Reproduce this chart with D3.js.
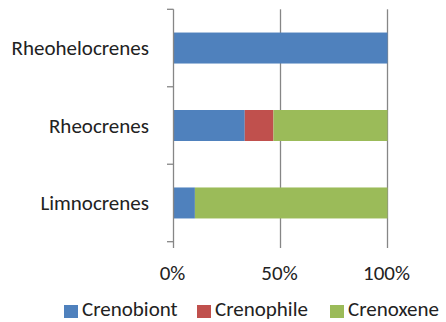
<!DOCTYPE html>
<html><head><meta charset="utf-8">
<script src="https://cdn.jsdelivr.net/npm/d3@7"></script>
<style>body{margin:0;background:#fff}</style>
</head><body>
<svg id="c" width="446" height="322"></svg>
<script>
const categories = ["Rheohelocrenes", "Rheocrenes", "Limnocrenes"];
const seriesNames = ["Crenobiont", "Crenophile", "Crenoxene"];
const crenobiont = [100, 33.3, 10];
const crenophile = [0, 13.4, 0];
const crenoxene = [0, 53.3, 90];
const tickValues = [0, 50, 100];
const tickLabels = ["0%", "50%", "100%"];
const colors = ["#4F81BD", "#C0504D", "#9BBB59"];

const font = "Carlito, 'Liberation Sans', Arial, sans-serif";
const fs = 21;
const svg = d3.select("#c");
const x = d3.scaleLinear().domain([0, 100]).range([173.5, 387.5]);
const y = d3.scaleBand().domain(categories).range([9.3, 241.7]).paddingInner(0.6).paddingOuter(0.3);

const rows = categories.map((c, i) => ({cat: c, Crenobiont: crenobiont[i], Crenophile: crenophile[i], Crenoxene: crenoxene[i]}));
const stack = d3.stack().keys(seriesNames)(rows);

// gridlines
svg.append("g").selectAll("line").data(tickValues.slice(1)).join("line")
  .attr("x1", d => x(d)).attr("x2", d => x(d))
  .attr("y1", 9.3).attr("y2", 248)
  .attr("stroke", "#868686").attr("stroke-width", 1.3);

// bars
svg.append("g").selectAll("g").data(stack).join("g")
  .attr("fill", (d, i) => colors[i])
  .selectAll("rect").data(d => d).join("rect")
  .attr("x", d => x(d[0])).attr("width", d => x(d[1]) - x(d[0]))
  .attr("y", d => y(d.data.cat)).attr("height", y.bandwidth());

// y axis
const yAxis = svg.append("g");
yAxis.append("line").attr("x1", 173.5).attr("x2", 173.5).attr("y1", 9.3).attr("y2", 248)
  .attr("stroke", "#868686").attr("stroke-width", 1.3);
const stepB = (241.7 - 9.3) / categories.length;
yAxis.selectAll("line.t").data(d3.range(categories.length + 1)).join("line").attr("class", "t")
  .attr("x1", 167).attr("x2", 173.5)
  .attr("y1", d => 9.3 + d * stepB).attr("y2", d => 9.3 + d * stepB)
  .attr("stroke", "#868686").attr("stroke-width", 1.3);
yAxis.selectAll("text").data(categories).join("text")
  .attr("x", 149).attr("y", d => y(d) + y.bandwidth() / 2)
  .attr("dy", "0.35em").attr("text-anchor", "end")
  .attr("font-family", font).attr("font-size", fs).attr("fill", "#222")
  .text(d => d);

// x tick labels
svg.append("g").selectAll("text").data(tickValues).join("text")
  .attr("x", d => x(d) - 1).attr("y", 279.5).attr("text-anchor", "middle")
  .attr("font-family", font).attr("font-size", fs).attr("fill", "#222")
  .text((d, i) => tickLabels[i]);

// legend
const legX = [64, 197, 330];
const leg = svg.append("g").selectAll("g").data(seriesNames).join("g")
  .attr("transform", (d, i) => `translate(${legX[i]},305)`);
leg.append("rect").attr("width", 14).attr("height", 13).attr("fill", (d, i) => colors[i]);
leg.append("text").attr("x", 18).attr("y", 11)
  .attr("font-family", font).attr("font-size", fs).attr("fill", "#222").text(d => d);
</script>
</body></html>
